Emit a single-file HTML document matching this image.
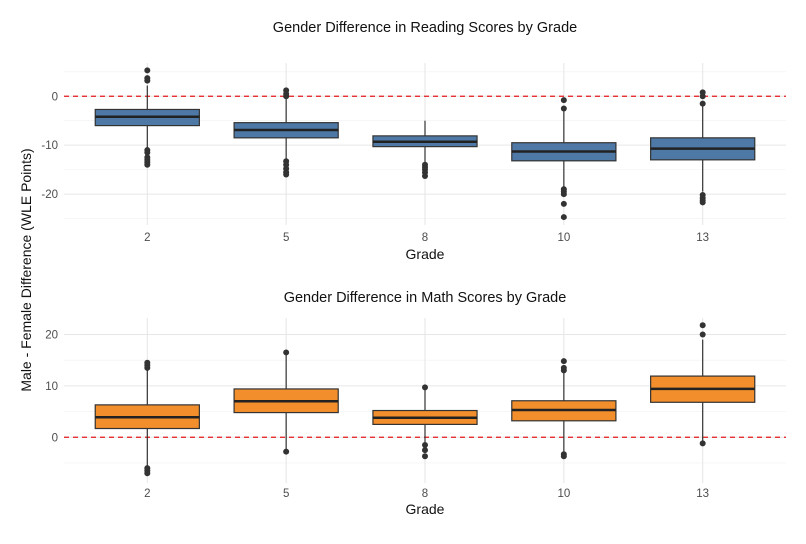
<!DOCTYPE html>
<html><head><meta charset="utf-8"><style>
body{margin:0;background:#fff;font-family:"Liberation Sans",sans-serif}
svg text{font-family:"Liberation Sans",sans-serif}
</style></head><body>
<svg id="c" width="806" height="539" xmlns="http://www.w3.org/2000/svg"></svg>
<script>
const categories=["2","5","8","10","13"];
const readQ1=[-6,-8.5,-10.3,-13.2,-13];
const readMed=[-4.2,-6.9,-9.3,-11.3,-10.7];
const readQ3=[-2.7,-5.4,-8.1,-9.5,-8.5];
const readLo=[-10.5,-13,-13.8,-18.5,-19.5];
const readHi=[2.2,0,-5,-3,-2];
const readOut=[[5.3,3.7,3.2,-11,-11.5,-12.5,-13,-13.5,-14],[0,0.5,1.2,-13.3,-14,-14.8,-15.5,-16],[-14,-14.5,-15,-15.6,-16.3],[-2.5,-0.8,-19,-19.5,-20,-22,-24.7],[-1.5,0,0.8,-20.2,-20.8,-21.3,-21.7]];
const mathQ1=[1.7,4.8,2.5,3.2,6.8];
const mathMed=[3.9,7,3.8,5.3,9.4];
const mathQ3=[6.3,9.4,5.2,7.1,11.9];
const mathLo=[-5.5,-2.5,-1,-3,-1];
const mathHi=[13.3,16,9.5,12.5,19];
const mathOut=[[13.5,14,14.5,-6,-6.5,-7],[16.5,-2.8],[9.7,-1.5,-2.5,-3.7],[13,13.5,14.8,-3.3,-3.7],[20,21.8,-1.2]];
const readTicks=[0,-10,-20], mathTicks=[20,10,0];
const svg=document.getElementById('c');const NS='http://www.w3.org/2000/svg';
function el(t,a,p){const e=document.createElementNS(NS,t);for(const k in a)e.setAttribute(k,a[k]);(p||svg).appendChild(e);return e;}
function panel(name,top,bot,gridBot,ymin,ymax,ticks,minor,q1,med,q3,lo,hi,out,fill,title,titleY,tickY,xlabY){
 const L=64,R=786;const g=el('g',{});
 const y=v=>bot-(v-ymin)/(ymax-ymin)*(bot-top);
 const bw=(R-L)/5.2;const x=i=>L+(i+0.6)*bw;
 minor.forEach(v=>el('line',{x1:L,x2:R,y1:y(v),y2:y(v),stroke:'#f0f0f0','stroke-width':0.6},g));
 ticks.forEach(v=>{el('line',{x1:L,x2:R,y1:y(v),y2:y(v),stroke:'#e6e6e6','stroke-width':1},g);
  const t=el('text',{x:L-6,y:y(v)+4,'text-anchor':'end','font-size':11.5,fill:'#4d4d4d'},g);t.textContent=v;});
 categories.forEach((c,i)=>{el('line',{x1:x(i),x2:x(i),y1:top,y2:gridBot,stroke:'#e6e6e6'},g);
  const t=el('text',{x:x(i),y:tickY,'text-anchor':'middle','font-size':11.5,fill:'#4d4d4d'},g);t.textContent=c;});
 el('line',{x1:L,x2:R,y1:y(0),y2:y(0),stroke:'#e41a1c','stroke-width':1.3,'stroke-dasharray':'5,4'},g);
 categories.forEach((c,i)=>{const b=el('g',{},g);
  const w=bw*0.75;
  el('line',{x1:x(i),x2:x(i),y1:y(hi[i]),y2:y(q3[i]),stroke:'#333','stroke-width':1.2},b);
  el('line',{x1:x(i),x2:x(i),y1:y(q1[i]),y2:y(lo[i]),stroke:'#333','stroke-width':1.2},b);
  el('rect',{x:x(i)-w/2,y:y(q3[i]),width:w,height:y(q1[i])-y(q3[i]),fill:fill,stroke:'#333','stroke-width':1.2},b);
  el('line',{x1:x(i)-w/2,x2:x(i)+w/2,y1:y(med[i]),y2:y(med[i]),stroke:'#222','stroke-width':2.5},b);
  out[i].forEach(v=>el('circle',{cx:x(i),cy:y(v),r:3,fill:'#333'},b));});
 const tt=el('text',{x:425,y:titleY,'text-anchor':'middle','font-size':14.5,fill:'#111'},g);tt.textContent=title;
 const xl=el('text',{x:425,y:xlabY,'text-anchor':'middle','font-size':14,fill:'#111'},g);xl.textContent='Grade';
}
panel('reading-panel',63,220,225,-25.3,6.8,readTicks,[5,-5,-15,-25],readQ1,readMed,readQ3,readLo,readHi,readOut,'#4e79a7','Gender Difference in Reading Scores by Grade',32,241,259);
panel('math-panel',318,483,483,-8.9,23.2,mathTicks,[15,5,-5],mathQ1,mathMed,mathQ3,mathLo,mathHi,mathOut,'#f28e2b','Gender Difference in Math Scores by Grade',302,497,514);
const yt=el('text',{x:0,y:0,'text-anchor':'middle','font-size':14,fill:'#111',transform:'translate(31,270) rotate(-90)'});
yt.textContent='Male - Female Difference (WLE Points)';


</script>
</body></html>
